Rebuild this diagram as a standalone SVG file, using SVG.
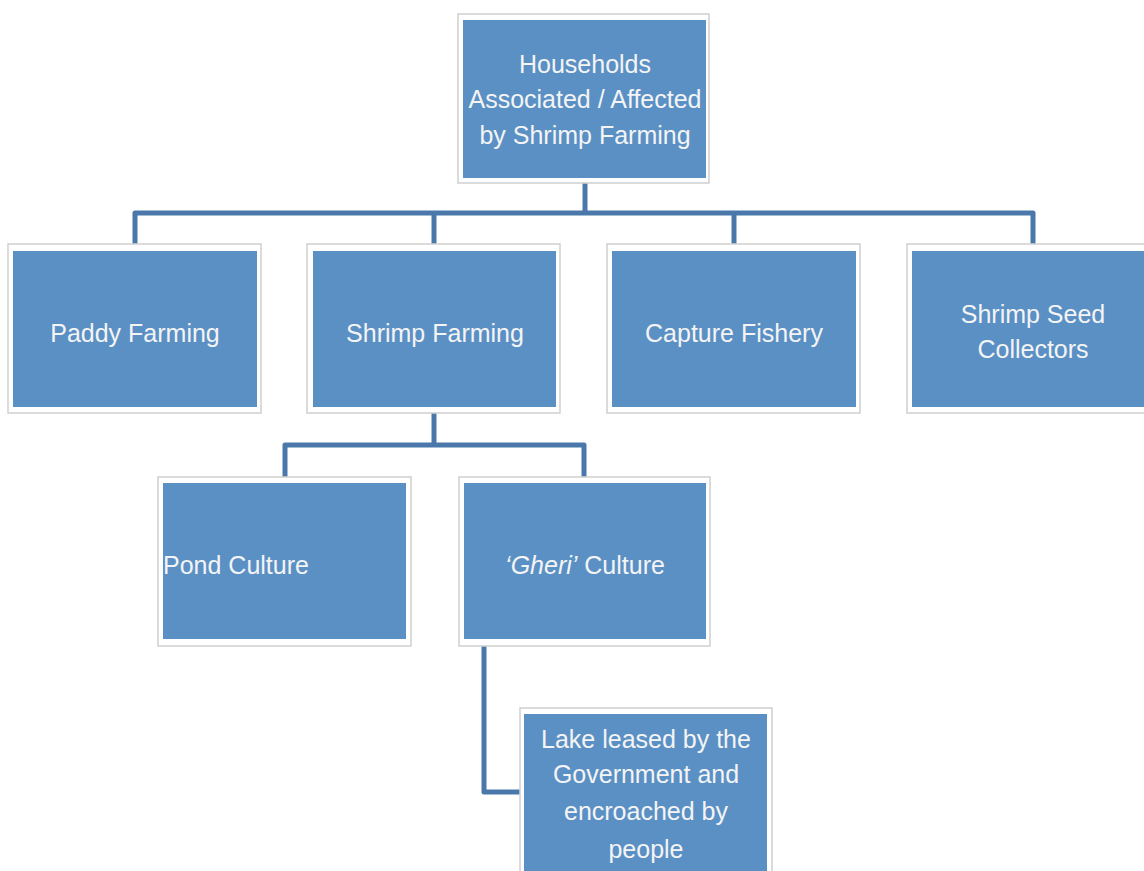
<svg xmlns="http://www.w3.org/2000/svg" width="1144" height="871" viewBox="0 0 1144 871">
<style>
.frame{fill:#ffffff;stroke:#cfcfcf;stroke-width:1.5}
.box{fill:#5b90c5}
.t{font-family:"Liberation Sans",Arial,sans-serif;font-size:25px;fill:#f4f4f4;text-anchor:middle}
.conn{fill:none;stroke:#4a78aa;stroke-width:5;stroke-linejoin:round;stroke-linecap:butt}
</style>
<rect width="1144" height="871" fill="#ffffff"/>
<g id="connectors">
<path class="conn" d="M585,183 V213"/>
<path class="conn" d="M135,244 V213 H1033 V244"/>
<path class="conn" d="M434,213 V244"/>
<path class="conn" d="M734,213 V244"/>
<path class="conn" d="M434,413 V445"/>
<path class="conn" d="M285,477 V445 H584 V477"/>
<path class="conn" d="M484,646 V792 H520"/>
</g>
<g id="households">
<rect class="frame" x="458" y="14" width="251" height="169"/>
<rect class="box" x="463" y="20" width="243" height="158"/>
<text class="t" x="585" y="73">Households</text>
<text class="t" x="585" y="108">Associated / Affected</text>
<text class="t" x="585" y="144">by Shrimp Farming</text>
</g>
<g id="paddy">
<rect class="frame" x="8" y="244" width="253" height="169"/>
<rect class="box" x="13" y="251" width="244" height="156"/>
<text class="t" x="135" y="342">Paddy Farming</text>
</g>
<g id="shrimp-farming">
<rect class="frame" x="307" y="244" width="253" height="169"/>
<rect class="box" x="313" y="251" width="243" height="156"/>
<text class="t" x="435" y="342">Shrimp Farming</text>
</g>
<g id="capture">
<rect class="frame" x="607" y="244" width="253" height="169"/>
<rect class="box" x="612" y="251" width="244" height="156"/>
<text class="t" x="734" y="342">Capture Fishery</text>
</g>
<g id="seed">
<rect class="frame" x="907" y="244" width="250" height="169"/>
<rect class="box" x="912" y="251" width="240" height="156"/>
<text class="t" x="1033" y="323">Shrimp Seed</text>
<text class="t" x="1033" y="358">Collectors</text>
</g>
<g id="pond">
<rect class="frame" x="158" y="477" width="253" height="169"/>
<rect class="box" x="163" y="483" width="243" height="156"/>
<text class="t" x="163" y="574" style="text-anchor:start">Pond Culture</text>
</g>
<g id="gheri">
<rect class="frame" x="459" y="477" width="251" height="169"/>
<rect class="box" x="464" y="483" width="242" height="156"/>
<text class="t" x="585" y="574"><tspan font-style="italic">‘Gheri’</tspan> Culture</text>
</g>
<g id="lake">
<rect class="frame" x="520" y="708" width="252" height="180"/>
<rect class="box" x="524" y="714" width="243" height="170"/>
<text class="t" x="646" y="748">Lake leased by the</text>
<text class="t" x="646" y="783">Government and</text>
<text class="t" x="646" y="820">encroached by</text>
<text class="t" x="646" y="858">people</text>
</g>
</svg>
